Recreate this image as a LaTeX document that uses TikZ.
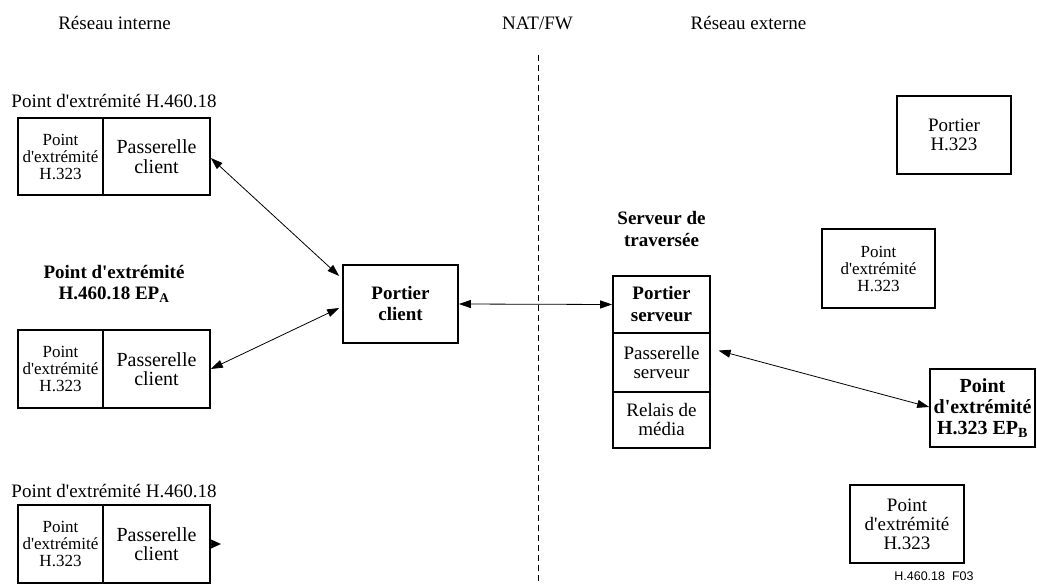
\documentclass[tikz,border=0pt]{standalone}
\usepackage{fontspec}
\setmainfont{Liberation Serif}
\setsansfont{Liberation Sans}
\usetikzlibrary{arrows.meta,calc}
\newcommand{\ap}{\textquotesingle}

\begin{document}
\begin{tikzpicture}[x=1pt,y=-1pt,
  box/.style={draw,line width=1.7pt,inner sep=0pt,align=center,
    font=\fontsize{19}{19}\selectfont},
  smallbox/.style={box,font=\fontsize{17}{17}\selectfont},
  gwbox/.style={box,font=\fontsize{20}{19.5}\selectfont},
  lbl/.style={inner sep=0pt,align=center,font=\fontsize{19}{21}\selectfont},
  link/.style={line width=0.8pt,{Triangle[length=12pt,width=8pt]}-{Triangle[length=12pt,width=8pt]}}
]
\useasboundingbox (0,0) rectangle (1037,585);

% zone headings and the NAT/FW boundary
\node[lbl] (hin) at (114.5,23) {Réseau interne};
\node[lbl] (hnat) at (537.5,23) {NAT/FW};
\node[lbl] (hext) at (748.5,23) {Réseau externe};
\coordinate (natTop) at (538,55);
\coordinate (natBot) at (538,585);
\draw[line width=0.8pt,dash pattern=on 6pt off 4pt] (natTop) -- (natBot);

% internal endpoints: H.323 endpoint + client gateway
\node[lbl,anchor=base] (t1) at (114,108) {Point d\ap extrémité H.460.18};
\node[smallbox,minimum width=85pt,minimum height=77pt] (e1) at (60.5,156.5) {Point\\d\ap extrémité\\H.323};
\node[gwbox,minimum width=107pt,minimum height=77pt] (g1) at (156.5,156.5) {Passerelle\\client};

\node[lbl,font=\bfseries\fontsize{19}{21}\selectfont,anchor=base] (t2) at (114,300) {Point d\ap extrémité\\H.460.18 EP\textsubscript{A}};
\node[smallbox,minimum width=85pt,minimum height=78pt] (e2) at (60.5,369) {Point\\d\ap extrémité\\H.323};
\node[gwbox,minimum width=107pt,minimum height=78pt] (g2) at (156.5,369) {Passerelle\\client};

\node[lbl,anchor=base] (t3) at (114,497) {Point d\ap extrémité H.460.18};
\node[smallbox,minimum width=85pt,minimum height=78pt] (e3) at (60.5,544) {Point\\d\ap extrémité\\H.323};
\node[gwbox,minimum width=107pt,minimum height=78pt] (g3) at (156.5,544) {Passerelle\\client};

% client gatekeeper
\node[box,font=\bfseries\fontsize{19}{21}\selectfont,minimum width=115pt,minimum height=78pt] (pc) at (400.5,304) {Portier\\client};

% traversal server stack
\node[lbl,font=\bfseries\fontsize{19}{22}\selectfont,anchor=base] (st) at (661.5,247) {Serveur de\\traversée};
\node[box,font=\bfseries\fontsize{19}{22}\selectfont,minimum width=97pt,minimum height=57pt] (ps) at (661.5,304.5) {Portier\\serveur};
\node[box,minimum width=97pt,minimum height=59pt] (pas) at (661.5,362.5) {Passerelle\\serveur};
\node[box,minimum width=97pt,minimum height=56pt] (rel) at (661.5,420) {Relais de\\média};

% external network
\node[box,minimum width=114pt,minimum height=78pt] (gk) at (954,135) {Portier\\H.323};
\node[smallbox,minimum width=113pt,minimum height=79pt] (x1) at (878.5,268.5) {Point\\d\ap extrémité\\H.323};
\node[box,font=\bfseries\fontsize{20}{21}\selectfont,minimum width=105pt,minimum height=78pt] (epb) at (982.5,408) {Point\\d\ap extrémité\\H.323 EP\textsubscript{B}};
\node[box,minimum width=114pt,minimum height=78pt] (x2) at (907,524) {Point\\d\ap extrémité\\H.323};

\node[inner sep=0pt,font=\sffamily\fontsize{12.5}{13}\selectfont,anchor=base] (fig) at (934,580) {H.460.18\ \ F03};

% signalling links
\draw[link] ([yshift=-1.5pt]g1.east) -- ([yshift=28pt,xshift=-3pt]pc.west);
\draw[link] (g2.east) -- ([yshift=-4pt,xshift=-3pt]pc.west);
\draw[link] (pc.east) -- (ps.west);
\draw[link,shorten <=8pt] ([yshift=14pt]pas.east) -- ([yshift=1pt]epb.west);
\coordinate (g3tip) at ($(g3.east)+(10,0)$);
\draw[line width=0.8pt,-{Triangle[length=10pt,width=9pt]}] (g3.east) -- (g3tip);
\end{tikzpicture}
\end{document}
